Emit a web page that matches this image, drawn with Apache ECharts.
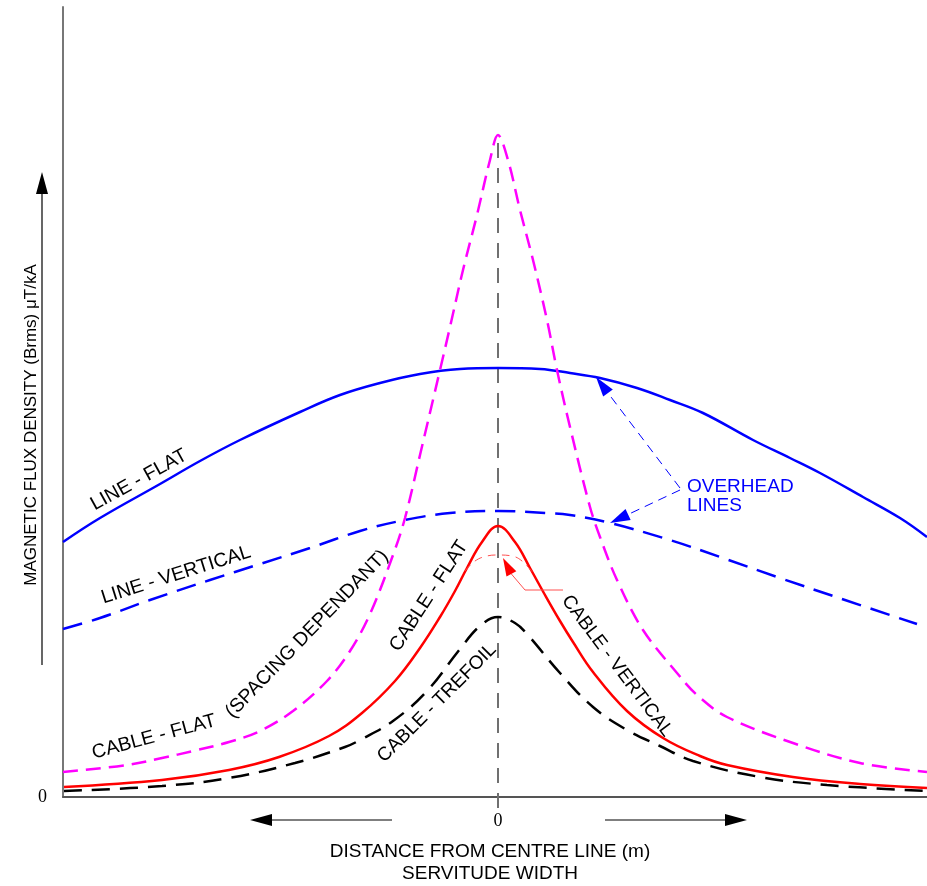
<!DOCTYPE html>
<html>
<head>
<meta charset="utf-8">
<script src="https://cdn.jsdelivr.net/npm/echarts@6/dist/echarts.min.js"></script>
<style>
html,body{margin:0;padding:0;background:#fff;}
#chart{width:927px;height:886px;}
</style>
</head>
<body>
<div id="chart"></div>
<script>
// ---- data (x: distance from centre line, y: magnetic flux density, arbitrary units) ----
var lineFlat = [[-43.5,25.5],[-39.8,27.9],[-33.8,31.3],[-29.8,33.6],[-25.8,35.7],[-19.8,38.5],[-15.8,40.2],[-11.8,41.4],[-7.8,42.3],[-3.8,42.8],[0,42.9],[4.2,42.8],[7.2,42.4],[10.2,41.9],[13.9,40.9],[17.2,39.7],[20.5,38.4],[25.5,35.7],[29.2,33.9],[32.2,32.4],[36.5,30.0],[40.2,27.9],[42.9,26.0]];
var lineVertical = [[-43.5,16.8],[-39.8,17.9],[-34.8,19.7],[-28.8,21.7],[-23.8,23.3],[-18.8,24.9],[-13.8,26.6],[-9.3,27.7],[-4.8,28.4],[0,28.6],[4.7,28.4],[7.2,28.2],[11.2,27.4],[17.2,25.7],[22.2,24.0],[28.2,21.9],[34.7,19.7],[41.9,17.3]];
var cableFlatSpacing = [[-43.5,2.5],[-37.1,3.2],[-33.6,3.9],[-30.5,4.6],[-26.9,5.5],[-23.8,6.6],[-20.5,8.6],[-17.1,11.6],[-14.8,14.6],[-12.8,18.3],[-10.5,24.2],[-9.3,27.9],[-7.8,34.2],[-5.8,42.7],[-4.8,47.0],[-3.5,52.7],[-2.1,58.2],[-0.8,63.7],[0,66.2],[1.0,63.7],[2.2,58.7],[3.5,53.7],[4.9,47.7],[5.9,42.7],[7.2,37.0],[9.2,29.0],[10.2,26.0],[11.9,21.7],[14.5,16.7],[17.9,12.4],[19.9,10.2],[22.9,8.0],[29.5,5.4],[36.2,3.4],[42.9,2.5]];
var cableFlat = [[-43.4,1.0],[-33.6,1.7],[-26.9,2.7],[-21.9,4.0],[-16.9,6.1],[-13.6,8.4],[-10.3,11.6],[-7.8,14.9],[-5.8,18.0],[-4.3,20.6],[-3.1,22.9],[-1.6,25.5],[0,27.1],[1.7,25.5],[3.2,22.9],[4.7,20.2],[6.2,17.6],[7.5,15.5],[9.5,12.5],[12.9,8.6],[16.5,5.9],[20.2,4.1],[22.9,3.2],[29.5,2.0],[36.2,1.3],[42.9,0.9]];
var cableVerticalPeak = [[-3.3,22.6],[-2.3,23.6],[-1.1,24.1],[0,24.2],[1.4,24.1],[2.4,23.6],[3.5,22.4]];
var cableTrefoil = [[-43.4,0.6],[-33.6,1.1],[-26.9,1.9],[-20.3,3.4],[-15.3,5.0],[-13.8,5.7],[-10.5,7.6],[-7.1,10.6],[-3.8,14.8],[-1.8,17.1],[0,18.0],[1.7,17.4],[2.9,16.3],[6.2,12.4],[9.5,9.0],[12.9,6.7],[16.2,5.1],[19.5,3.6],[26.2,2.0],[32.9,1.2],[42.9,0.6]];
var centreLine = [[0,-1.1],[0,66.0]];
var xRange = [-43.5, 42.9];
var yRange = [0, 79];
var tickLabels = ['0'];

var font = '"Liberation Sans", Arial, sans-serif';
function deg(d){ return d*Math.PI/180; }
function txt(t, x, y, rotDeg, size, color, align){
  return {type:'text', x:x, y:y, rotation:deg(rotDeg), z:10,
    style:{text:t, fontSize:size, fontFamily:font, fill:color||'#000', align:align||'center', verticalAlign:'middle'}};
}
function ln(x1,y1,x2,y2,color,w,dash){
  return {type:'line', z:10, shape:{x1:x1,y1:y1,x2:x2,y2:y2}, style:{stroke:color, lineWidth:w, lineDash:dash||null}};
}
function tri(pts,color){
  return {type:'polygon', z:10, shape:{points:pts}, style:{fill:color}};
}

var chart = echarts.init(document.getElementById('chart'), null, {renderer:'canvas'});
chart.setOption({
  animation:false,
  backgroundColor:'#fff',
  grid:{left:63, right:0, top:7, bottom:89, containLabel:false},
  xAxis:{type:'value', min:xRange[0], max:xRange[1], interval:-xRange[0],
    axisLine:{show:true, onZero:false, lineStyle:{color:'#555', width:2}},
    axisTick:{show:false}, splitLine:{show:false},
    axisLabel:{show:true, margin:15, fontFamily:'"Liberation Serif", serif', fontSize:18, color:'#000',
      showMinLabel:true, showMaxLabel:false,
      formatter:function(v){ return Math.abs(v)<1e-9 ? tickLabels[0] : ''; }}},
  yAxis:{type:'value', min:yRange[0], max:yRange[1], interval:yRange[1],
    axisLine:{show:true, onZero:false, lineStyle:{color:'#777', width:2}},
    axisTick:{show:false}, splitLine:{show:false},
    axisLabel:{show:true, margin:16, fontFamily:'"Liberation Serif", serif', fontSize:18, color:'#000',
      formatter:function(v){ return v===0 ? tickLabels[0] : ''; }}},
  series:[
    {name:'centre', type:'line', data:centreLine, showSymbol:false, clip:false, z:1,
      lineStyle:{color:'#707070', width:2, type:[15,10]}},
    {name:'LINE - FLAT', type:'line', data:lineFlat, showSymbol:false, smooth:0.4,
      lineStyle:{color:'#0000ff', width:2.5}},
    {name:'LINE - VERTICAL', type:'line', data:lineVertical, showSymbol:false, smooth:0.4,
      lineStyle:{color:'#0000ff', width:2.5, type:[20,10]}},
    {name:'CABLE - FLAT (SPACING DEPENDANT)', type:'line', data:cableFlatSpacing, showSymbol:false, smooth:0.35,
      lineStyle:{color:'#ff00ff', width:2.5, type:[15,8]}},
    {name:'CABLE - FLAT', type:'line', data:cableFlat, showSymbol:false, smooth:0.4,
      lineStyle:{color:'#ff0000', width:2.5}},
    {name:'CABLE - VERTICAL', type:'line', data:cableVerticalPeak, showSymbol:false, smooth:0.4,
      lineStyle:{color:'#ff5050', width:1, type:[8,6]}},
    {name:'CABLE - TREFOIL', type:'line', data:cableTrefoil, showSymbol:false, smooth:0.4,
      lineStyle:{color:'#000000', width:2.5, type:[18,10]}}
  ],
  graphic:[
    // axis titles
    txt('MAGNETIC FLUX DENSITY (Brms) \u03bcT/kA', 31, 425, 90, 17),
    txt('DISTANCE FROM CENTRE LINE (m)', 490, 852, 0, 19),
    txt('SERVITUDE WIDTH', 490, 874, 0, 19),
    // y direction arrow
    ln(42,665,42,190,'#000',1.2),
    tri([[42,172],[36,194],[48,194]],'#000'),
    // x direction arrows
    ln(392,820,268,820,'#000',1.2),
    tri([[250,820],[272,814],[272,826]],'#000'),
    ln(605,820,728,820,'#000',1.2),
    tri([[747,820],[725,814],[725,826]],'#000'),
    // curve labels
    txt('LINE - FLAT', 139, 480, 29, 19.5),
    txt('LINE - VERTICAL', 176, 575, 17.5, 19.5),
    txt('CABLE - FLAT', 154, 737, 15, 19.5),
    txt('(SPACING DEPENDANT)', 307, 634, 46, 19.5),
    txt('CABLE - FLAT', 429, 596, 57, 19.5),
    txt('CABLE - TREFOIL', 437, 703, 45, 19),
    txt('CABLE - VERTICAL', 617, 666, -53, 19),
    txt('OVERHEAD', 687, 487, 0, 19, '#0000ff', 'left'),
    txt('LINES', 687, 506, 0, 19, '#0000ff', 'left'),
    // overhead lines pointers
    ln(680,488,608,393,'#0000ff',1,[9,6]),
    tri([[596,377],[612.8,389.4],[603.2,396.6]],'#0000ff'),
    ln(680,490,628,514.5,'#0000ff',1,[9,6]),
    tri([[610,523],[630.7,519.9],[625.5,509.1]],'#0000ff'),
    // cable vertical pointer
    {type:'polyline', z:10, shape:{points:[[563,590],[525,590],[511.4,574]]}, style:{stroke:'#ff5050', lineWidth:1, fill:null}},
    tri([[503,558],[516.3,571.3],[506.5,576.5]],'#ff0000')
  ]
});
</script>
</body>
</html>
